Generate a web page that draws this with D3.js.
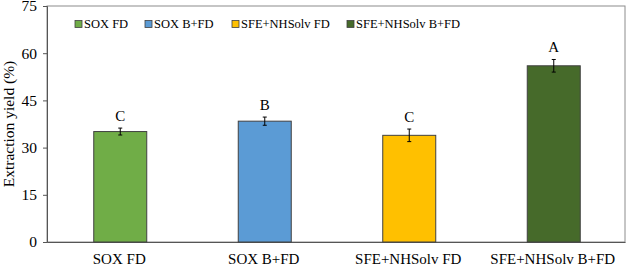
<!DOCTYPE html>
<html>
<head>
    <script src="https://d3js.org/d3.v7.min.js"></script>
    <style>
        body { margin: 0; background: #fff; }
        text { font-family: "Liberation Serif", "Times New Roman", serif; fill: #000; }
    </style>
</head>
<body>
    <script>
        // data
        const categories = ["SOX FD", "SOX B+FD", "SFE+NHSolv FD", "SFE+NHSolv B+FD"];
        const yields = [35.1, 38.4, 33.9, 56.0];
        const errors = [1.1, 1.3, 2.0, 2.0];
        const letters = ["C", "B", "C", "A"];
        const colors = ["#70AD47", "#5B9BD5", "#FFC000", "#466A2A"];
        const yTicks = [0, 15, 30, 45, 60, 75];

        const margin = {top: 6, right: 2, bottom: 24, left: 47},
            width = 627 - margin.left - margin.right,
            height = 266 - margin.top - margin.bottom;

        const svg = d3.select("body")
          .append("svg")
            .attr("width", 627)
            .attr("height", 266)
          .append("g")
            .attr("transform", `translate(${margin.left},${margin.top})`);

        const x = d3.scaleBand()
          .domain(categories)
          .range([0, width])
          .padding(0);
        const barW = 53;

        const y = d3.scaleLinear()
          .domain([0, 75])
          .range([height, 0]);

        // plot border
        svg.append("rect")
          .attr("width", width)
          .attr("height", height)
          .attr("fill", "none")
          .attr("stroke", "#8c8c8c")
          .attr("stroke-width", 1);

        // y axis
        const yAxis = svg.append("g")
          .call(d3.axisLeft(y).tickValues(yTicks).tickSize(4).tickPadding(6));
        yAxis.select(".domain").attr("stroke", "#555");
        yAxis.selectAll(".tick line").attr("stroke", "#555");
        yAxis.selectAll("text")
          .style("font-size", "15.5px")
          .style("font-family", "Liberation Serif");

        // x axis line + labels
        const xAxis = svg.append("g")
          .attr("transform", `translate(0,${height})`)
          .call(d3.axisBottom(x).tickSize(0).tickPadding(11));
        xAxis.select(".domain").attr("stroke", "#555");
        xAxis.selectAll("text")
          .style("font-size", "15px")
          .style("font-family", "Liberation Serif");

        // bars
        svg.selectAll(".bar")
          .data(categories)
          .enter()
          .append("rect")
            .attr("x", (d) => x(d) + (x.bandwidth() - barW) / 2 + 1)
            .attr("y", (d, i) => y(yields[i]))
            .attr("width", barW)
            .attr("height", (d, i) => height - y(yields[i]))
            .attr("fill", (d, i) => colors[i])
            .attr("stroke", "#404040")
            .attr("stroke-width", 1);

        // error bars
        const cx = (d) => x(d) + x.bandwidth() / 2 + 1;
        categories.forEach(function(d, i) {
            const g = svg.append("g").attr("stroke", "#000").attr("stroke-width", 1);
            g.append("line")
              .attr("x1", cx(d)).attr("x2", cx(d))
              .attr("y1", y(yields[i] + errors[i])).attr("y2", y(yields[i] - errors[i]));
            [1, -1].forEach(function(s) {
                g.append("line")
                  .attr("x1", cx(d) - 2).attr("x2", cx(d) + 2)
                  .attr("y1", y(yields[i] + s * errors[i]))
                  .attr("y2", y(yields[i] + s * errors[i]));
            });
            svg.append("text")
              .attr("x", cx(d))
              .attr("y", y(yields[i] + errors[i]) - 7)
              .attr("text-anchor", "middle")
              .style("font-size", "15px")
              .text(letters[i]);
        });

        // y title
        svg.append("text")
          .attr("transform", "rotate(-90)")
          .attr("x", -height / 2)
          .attr("y", -margin.left + 14)
          .attr("text-anchor", "middle")
          .style("font-size", "15.5px")
          .text("Extraction yield (%)");

        // legend
        const legendX = [28, 98, 185, 300];
        const legend = svg.selectAll(".legend")
          .data(categories)
          .enter()
          .append("g")
            .attr("transform", (d, i) => `translate(${legendX[i]},${24 - margin.top})`);
        legend.append("rect")
          .attr("x", 0).attr("y", -3.5)
          .attr("width", 7).attr("height", 7)
          .attr("fill", (d, i) => colors[i])
          .attr("stroke", "#404040")
          .attr("stroke-width", 0.8);
        legend.append("text")
          .attr("x", 9)
          .attr("y", 0)
          .attr("dy", "0.35em")
          .style("font-size", "12.5px")
          .text((d) => d);
    </script>
</body>
</html>
